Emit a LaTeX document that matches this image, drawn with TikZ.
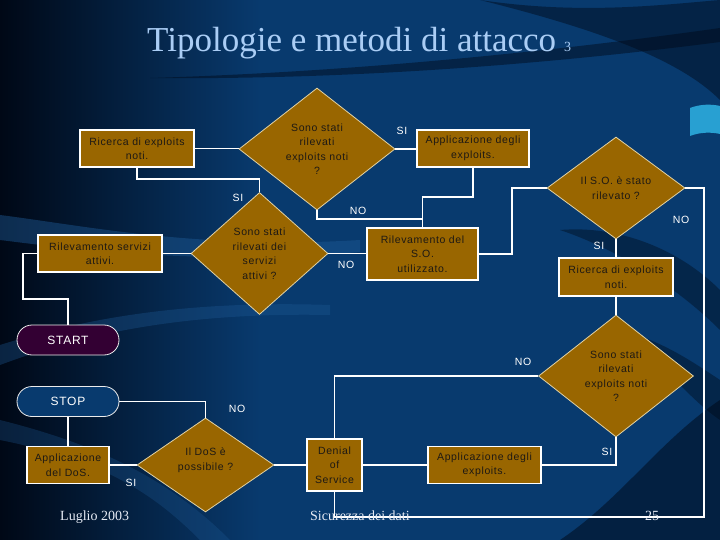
\documentclass[tikz,border=0pt]{standalone}
\usepackage{fontspec}
\setmainfont{Liberation Serif}
\newfontfamily\boxfont{Liberation Sans}[LetterSpace=6]
\usetikzlibrary{shapes.geometric}
\definecolor{bgmain}{RGB}{8,58,110}
\definecolor{bgdark}{RGB}{0,8,22}
\definecolor{bglight}{RGB}{30,90,150}
\definecolor{gold}{RGB}{153,102,0}
\definecolor{tan}{RGB}{225,210,165}
\definecolor{boxtext}{RGB}{30,25,20}
\definecolor{startfill}{RGB}{51,0,51}
\definecolor{titlecol}{RGB}{170,205,245}
\definecolor{footcol}{RGB}{230,235,245}
\definecolor{cyanhl}{RGB}{40,160,210}
\tikzset{
  box/.style={draw=white, line width=1.3pt, fill=gold, text=boxtext, align=center, inner sep=0pt,
    font=\boxfont\fontsize{10.5}{14.5}\selectfont},
  dia/.style={diamond, draw=tan, line width=0.8pt, fill=gold, text=boxtext, align=center, inner sep=0pt,
    font=\boxfont\fontsize{10.5}{14.5}\selectfont},
  pill/.style={draw=white!85!gray, line width=0.8pt, rounded corners=15pt, minimum width=102pt, minimum height=30pt,
    text=white, font=\boxfont\fontsize{12}{14}\selectfont},
  conn/.style={draw=white, line width=1.2pt},
  lab/.style={text=white, font=\boxfont\fontsize{10.5}{12}\selectfont},
  foot/.style={text=footcol, font=\fontsize{14}{16}\selectfont, anchor=base west, inner sep=0pt}
}
\begin{document}
\begin{tikzpicture}[x=1pt,y=-1pt]
\useasboundingbox (0,0) rectangle (720,540);
% background
\fill[bgmain] (0,0) rectangle (720,540);
\shade[left color=bgdark, right color=bgmain] (0,0) rectangle (260,540);
\fill[bgdark, opacity=0.45] (480,0) .. controls (580,15) and (660,5) .. (720,0) -- (720,100) .. controls (680,60) and (600,30) .. (480,0) -- cycle;
\fill[bgdark, opacity=0.45] (150,78) .. controls (350,72) and (550,52) .. (720,28) -- (720,42) .. controls (550,64) and (350,80) .. (150,78) -- cycle;
\fill[bglight, opacity=0.45] (0,215) .. controls (80,225) and (200,250) .. (360,240) -- (360,252) .. controls (200,265) and (80,250) .. (0,240) -- cycle;
\fill[bglight, opacity=0.35] (0,345) .. controls (80,320) and (180,300) .. (330,305) -- (330,315) .. controls (180,312) and (80,335) .. (0,365) -- cycle;
\fill[bglight, opacity=0.3] (0,440) .. controls (100,460) and (150,490) .. (200,540) -- (230,540) .. controls (170,480) and (100,445) .. (0,420) -- cycle;
\fill[bgdark, opacity=0.4] (560,230) .. controls (620,250) and (680,290) .. (720,330) -- (720,290) .. controls (680,250) and (620,225) .. (560,230) -- cycle;
\fill[bgdark, opacity=0.4] (620,330) .. controls (660,360) and (690,400) .. (720,420) -- (720,380) .. controls (690,360) and (660,340) .. (620,330) -- cycle;
\fill[bgdark, opacity=0.5] (560,540) .. controls (620,500) and (660,440) .. (720,400) -- (720,540) -- cycle;
\fill[cyanhl] (690,108) .. controls (700,104) and (712,104) .. (720,106) -- (720,134) .. controls (712,132) and (700,132) .. (690,136) -- cycle;
% title
\node[anchor=base west, inner sep=0pt, text=titlecol, font=\fontsize{35}{40}\selectfont] (title) at (147,52) {Tipologie e metodi di attacco};
\node[anchor=base west, inner sep=0pt, text=titlecol, font=\fontsize{14}{16}\selectfont] (titlenum) at (564,52) {3};
% nodes
\node[box, minimum width=114pt, minimum height=37pt] (A) at (137,148.5) {Ricerca di exploits\\noti.};
\node[dia, minimum width=156pt, minimum height=122pt] (D1) at (317,149) {Sono stati\\rilevati\\exploits noti\\?};
\node[box, minimum width=112pt, minimum height=37pt] (ApT) at (473,148.5) {Applicazione degli\\exploits.};
\node[dia, minimum width=138pt, minimum height=102pt] (D2) at (616,188) {Il S.O. è stato\\rilevato ?};
\node[box, minimum width=124pt, minimum height=37pt] (RS) at (100,253.5) {Rilevamento servizi\\attivi.};
\node[dia, minimum width=137pt, minimum height=122pt] (D3) at (259.5,253.5) {Sono stati\\rilevati dei\\servizi\\attivi ?};
\node[box, minimum width=111pt, minimum height=52pt] (RSO) at (422.5,254) {Rilevamento del\\S.O.\\utilizzato.};
\node[box, minimum width=114pt, minimum height=38pt] (RR) at (616,277) {Ricerca di exploits\\noti.};
\node[dia, minimum width=155pt, minimum height=122pt] (D4) at (616,376) {Sono stati\\rilevati\\exploits noti\\?};
\node[pill, fill=startfill] (START) at (68,340) {START};
\node[pill, fill=bgmain] (STOP) at (68,401.5) {STOP};
\node[box, minimum width=82pt, minimum height=37pt] (AD) at (68,465) {Applicazione\\del DoS.};
\node[dia, minimum width=137pt, minimum height=94pt] (D5) at (205.5,465) {Il DoS è\\possibile ?\\[-3pt]};
\node[box, minimum width=55pt, minimum height=52pt] (DEN) at (334.5,465) {Denial\\of\\Service};
\node[box, minimum width=113pt, minimum height=37pt] (AB) at (484.5,465) {Applicazione degli\\exploits.};
% helper coordinates
\coordinate (c1) at (259.5,179);
\coordinate (c2) at (422.5,197);
\coordinate (c3) at (422.5,219);
\coordinate (c4) at (23,299);
\coordinate (c5) at (512,188);
\coordinate (c6) at (704,517);
% connectors
\draw[conn] (A.east) -- (A.east -| D1.west);
\draw[conn] (A.south) |- (c1) -- (D3.north);
\draw[conn] (D1.east) -- (D1.east -| ApT.west);
\draw[conn] (ApT.south) |- (c2) -- (RSO.north);
\draw[conn] (D1.south) |- (c3);
\draw[conn] (START.north) |- (c4) |- (RS.west);
\draw[conn] (RS.east) -- (D3.west);
\draw[conn] (D3.east) -- (D3.east -| RSO.west);
\draw[conn] (RSO.east) -| (c5) -- (D2.west);
\draw[conn] (D2.south) -- (RR.north);
\draw[conn] (D2.east) -| (c6) -| (DEN.south);
\draw[conn] (RR.south) -- (D4.north);
\draw[conn] (D4.west) -| (DEN.north);
\draw[conn] (D4.south) |- (AB.east);
\draw[conn] (AB.west) -- (DEN.east);
\draw[conn] (DEN.west) -- (D5.east);
\draw[conn] (D5.west) -- (AD.east);
\draw[conn] (D5.north) |- (STOP.east);
\draw[conn] (STOP.south) -- (AD.north);
% labels
\node[lab] (l1) at (238,198) {SI};
\node[lab] (l2) at (402,131) {SI};
\node[lab] (l3) at (358,211) {NO};
\node[lab] (l4) at (346,265) {NO};
\node[lab] (l5) at (599,246) {SI};
\node[lab] (l6) at (681,220) {NO};
\node[lab] (l7) at (523,362) {NO};
\node[lab] (l8) at (607,452) {SI};
\node[lab] (l9) at (131,483) {SI};
\node[lab] (l10) at (237,409) {NO};
% footer
\node[foot] (f1) at (60,520) {Luglio 2003};
\node[foot] (f2) at (310,520) {Sicurezza dei dati};
\node[foot] (f3) at (645,520) {25};
\end{tikzpicture}
\end{document}
